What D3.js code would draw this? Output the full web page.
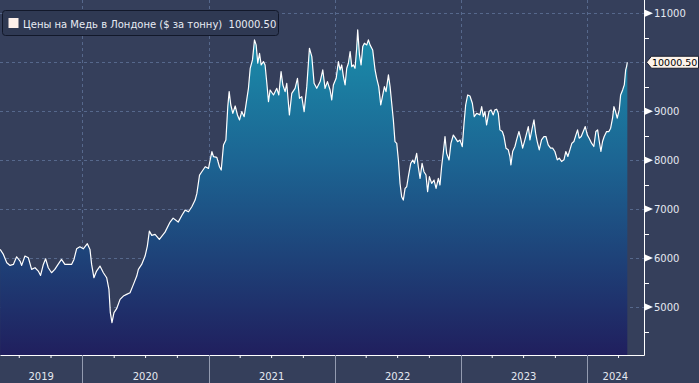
<!DOCTYPE html>
<html>
<head>
<meta charset="utf-8">
<script src="https://cdn.jsdelivr.net/npm/d3@7"></script>
<style>
  html, body { margin: 0; padding: 0; background: #353f5b; }
  svg { display: block; font-family: "DejaVu Sans", sans-serif; }
</style>
</head>
<body>
<svg id="chart" width="699" height="383"></svg>
<script>
// copper price, LME, $ per tonne (dates as decimal years)
const dates = [
  2019.348,2019.374,2019.401,2019.427,2019.453,2019.479,2019.506,2019.519,2019.545,2019.572,
  2019.598,2019.625,2019.651,2019.669,2019.691,2019.709,2019.730,2019.756,2019.782,2019.808,
  2019.835,2019.862,2019.888,2019.915,2019.934,2019.955,2019.981,2020.008,2020.040,2020.061,
  2020.074,2020.092,2020.113,2020.140,2020.167,2020.193,2020.211,2020.222,2020.235,2020.251,
  2020.272,2020.299,2020.325,2020.351,2020.378,2020.405,2020.431,2020.444,2020.470,2020.497,
  2020.515,2020.531,2020.550,2020.576,2020.610,
  2020.655,2020.695,2020.719,2020.759,2020.790,2020.814,2020.841,2020.867,2020.893,2020.907,
  2020.928,2020.946,2020.973,2020.999,2021.012,2021.026,2021.039,2021.065,2021.086,2021.100,
  2021.118,2021.137,2021.152,2021.163,2021.176,2021.192,2021.211,2021.229,2021.245,2021.263,
  2021.282,2021.298,2021.316,2021.330,2021.348,2021.364,2021.377,2021.390,2021.404,2021.417,
  2021.435,2021.448,2021.462,2021.475,2021.488,2021.515,2021.541,2021.557,2021.575,2021.589,
  2021.607,2021.620,2021.641,2021.660,2021.686,2021.705,2021.721,2021.739,2021.758,2021.779,
  2021.800,2021.819,2021.837,2021.858,
  2021.885,2021.906,2021.924,2021.943,2021.964,2021.977,2021.990,2022.012,2022.030,2022.043,
  2022.056,2022.070,2022.083,2022.096,2022.109,2022.123,2022.136,2022.149,2022.162,2022.175,
  2022.183,2022.197,2022.210,2022.223,2022.236,2022.255,2022.268,2022.281,2022.302,2022.321,
  2022.334,2022.350,2022.366,2022.382,2022.395,2022.408,2022.427,2022.440,2022.453,2022.466,
  2022.479,2022.493,2022.506,2022.519,2022.532,2022.545,2022.559,2022.572,2022.585,2022.604,
  2022.620,2022.633,2022.651,2022.664,2022.678,2022.694,2022.709,2022.725,2022.738,2022.752,
  2022.770,2022.789,2022.805,2022.823,2022.836,2022.849,2022.863,2022.876,2022.889,2022.908,
  2022.923,2022.942,2022.960,2022.976,2022.995,2023.013,2023.027,2023.040,2023.056,2023.074,
  2023.093,2023.108,2023.127,
  2023.153,2023.167,2023.180,2023.193,2023.206,2023.225,2023.241,2023.259,2023.272,2023.286,
  2023.299,2023.312,2023.331,2023.344,2023.360,2023.378,2023.391,2023.399,2023.413,2023.431,
  2023.444,2023.463,2023.476,2023.492,2023.510,2023.524,2023.537,2023.550,2023.568,2023.582,
  2023.595,2023.608,2023.624,2023.642,2023.661,2023.677,2023.695,2023.714,2023.730,2023.748,
  2023.767,2023.783,2023.801,2023.820,2023.835,2023.851,2023.867,2023.883,2023.899,2023.915,
  2023.928,2023.941,2023.957,2023.973,2023.989,2024.005,2024.020,2024.039,2024.057,2024.073,
  2024.087,2024.100,2024.113,2024.126,2024.139,2024.158,2024.176,2024.190,2024.205,2024.216,
  2024.229,2024.242,2024.258,2024.269,2024.285,2024.298,2024.309,2024.316,2024.322
];
const prices = [
  6177,6075,5905,5850,5870,6027,5939,5850,6041,6007,
  5769,5803,5735,5646,5870,5986,5803,5701,5769,5870,
  5973,5870,5870,5870,5973,6190,6231,6190,6293,6177,
  5870,5599,5735,5837,5701,5599,5361,4884,4680,4884,
  4966,5156,5224,5258,5292,5463,5633,5769,5870,6041,
  6245,6551,6463,6483,6381,
  6530,6735,6816,6735,6880,6980,6946,7048,7185,7321,
  7696,7764,7866,7832,8003,8173,8071,8057,7866,7798,
  8310,8412,9093,9400,9127,8957,9107,8923,8821,8991,
  8889,9162,9468,9877,10048,10457,10355,9980,10184,9945,
  10014,9945,9571,9196,9434,9332,9468,9332,9809,9536,
  9400,9571,8923,9366,9468,9673,9264,9298,8991,9502,
  10286,10116,9571,9468,
  9605,9843,9468,9605,9434,9230,9536,9673,10014,9843,
  9945,9707,9536,9877,9980,10218,9911,9945,9877,10286,
  10661,10150,9945,10320,10389,10355,10457,10355,10252,9843,
  9673,9502,9127,9332,9502,9400,9741,9502,9162,8821,
  8378,8344,8003,7526,7253,7185,7423,7457,7662,7935,
  8003,7935,8139,7866,7628,7935,7764,7696,7355,7662,
  7526,7594,7423,7628,7492,7866,8173,8480,8139,8003,
  8344,8514,8446,8378,8412,8276,8753,9127,9332,9312,
  9162,8889,8957,
  8925,9095,8891,8993,8721,8993,9027,8925,9027,9041,
  8959,8619,8585,8483,8245,8211,8075,7905,8177,8279,
  8415,8585,8449,8245,8415,8551,8687,8415,8653,8823,
  8551,8381,8211,8415,8483,8483,8313,8245,8245,8177,
  8007,8041,7973,8007,8177,8075,8211,8347,8381,8517,
  8619,8449,8483,8585,8687,8517,8449,8347,8279,8585,
  8619,8381,8177,8381,8483,8585,8585,8653,8857,9095,
  8993,8857,9027,9333,9435,9537,9844,9912,10000.50
];
const yTicks = [5000, 6000, 7000, 8000, 9000, 10000, 11000];
const yMinor = [4500, 5500, 6500, 7500, 8500, 9500, 10500];
const yearLabels = [2019, 2020, 2021, 2022, 2023, 2024];
const legendText = "Цены на Медь в Лондоне ($ за тонну)\u00a0\u00a010000.50";
const lastLabel = "10000.50";

function yearToDate(y) {
  const yr = Math.floor(y);
  const a = Date.UTC(yr, 0, 1), b = Date.UTC(yr + 1, 0, 1);
  return new Date(a + (y - yr) * (b - a));
}

const W = 644, H = 355;
const data = dates.map((d, i) => ({ date: yearToDate(d), v: prices[i] }));

const x = d3.scaleUtc()
  .domain([yearToDate(2019.347), yearToDate(2024.454)])
  .range([0, W]);
const y = d3.scaleLinear().domain([4020, 11272]).range([H, 0]);

const svg = d3.select('#chart');

svg.append('rect').attr('width', 699).attr('height', 383).attr('fill', '#353f5b');

const defs = svg.append('defs');
const grad = defs.append('linearGradient')
  .attr('id', 'areaGrad')
  .attr('gradientUnits', 'userSpaceOnUse')
  .attr('x1', 0).attr('x2', 0).attr('y1', 0).attr('y2', H);
grad.append('stop').attr('offset', '0%').attr('stop-color', '#1a98b1');
grad.append('stop').attr('offset', '45%').attr('stop-color', '#1c6593');
grad.append('stop').attr('offset', '100%').attr('stop-color', '#201f5e');

// grid
const grid = svg.append('g')
  .attr('stroke', '#56688c')
  .attr('stroke-dasharray', '3,3')
  .attr('stroke-width', 1);
grid.selectAll('line.h')
  .data(yTicks)
  .enter().append('line')
  .attr('x1', 0).attr('x2', W)
  .attr('y1', d => Math.round(y(d)) + 0.5)
  .attr('y2', d => Math.round(y(d)) + 0.5);
const yearStarts = yearLabels.slice(1).map(yr => new Date(Date.UTC(yr, 0, 1)));
grid.selectAll('line.v')
  .data(yearStarts)
  .enter().append('line')
  .attr('y1', 0).attr('y2', H)
  .attr('x1', d => Math.round(x(d)) + 0.5)
  .attr('x2', d => Math.round(x(d)) + 0.5);

// area + line
const area = d3.area()
  .x(d => x(d.date))
  .y0(H)
  .y1(d => y(d.v));
const line = d3.line()
  .x(d => x(d.date))
  .y(d => y(d.v));

svg.append('path').datum(data)
  .attr('d', area)
  .attr('fill', 'url(#areaGrad)');
svg.append('path').datum(data)
  .attr('d', line)
  .attr('fill', 'none')
  .attr('stroke', '#ffffff')
  .attr('stroke-width', 1.2)
  .attr('stroke-linejoin', 'round');

// x axis
const quarters = d3.utcMonth.every(3)
  .range(x.domain()[0], x.domain()[1])
  .filter(d => d.getUTCMonth() !== 0);
const xAxis = svg.append('g')
  .attr('transform', `translate(0,${H})`)
  .call(d3.axisBottom(x).tickValues(quarters).tickSize(3).tickFormat('').tickSizeOuter(0));
xAxis.select('.domain').attr('stroke', '#ffffff');
xAxis.selectAll('.tick line').attr('stroke', '#ffffff');

svg.append('g').selectAll('line')
  .data(yearStarts)
  .enter().append('line')
  .attr('x1', d => Math.round(x(d)) + 0.5)
  .attr('x2', d => Math.round(x(d)) + 0.5)
  .attr('y1', H).attr('y2', 383)
  .attr('stroke', '#939bb0');

svg.append('g').selectAll('text')
  .data(yearLabels)
  .enter().append('text')
  .attr('x', yr => {
    const a = Math.max(0, x(new Date(Date.UTC(yr, 0, 1))));
    const b = Math.min(W, x(new Date(Date.UTC(yr + 1, 0, 1))));
    return (a + b) / 2;
  })
  .attr('y', 380)
  .attr('text-anchor', 'middle')
  .attr('font-size', 10)
  .attr('fill', '#e4e8f0')
  .text(d => d);

// y axis
svg.append('line')
  .attr('x1', W + 0.5).attr('x2', W + 0.5)
  .attr('y1', 0).attr('y2', H + 0.5)
  .attr('stroke', '#ffffff');

const last = data[data.length - 1];
const ly = y(last.v);
// the last-value marker hides the tick that sits under it
const shownTicks = yTicks.filter(d => Math.abs(y(d) - ly) > 10);

const yAxis = svg.append('g');
yAxis.selectAll('path.tri')
  .data(shownTicks)
  .enter().append('path')
  .attr('d', d => {
    const yy = y(d);
    return `M${W + 1},${yy - 3.5}L${W + 9},${yy}L${W + 1},${yy + 3.5}Z`;
  })
  .attr('fill', '#ffffff');
yAxis.selectAll('line.minor')
  .data(yMinor)
  .enter().append('line')
  .attr('x1', W).attr('x2', W + 5)
  .attr('y1', d => Math.round(y(d)) + 0.5)
  .attr('y2', d => Math.round(y(d)) + 0.5)
  .attr('stroke', '#ffffff');
yAxis.selectAll('text')
  .data(shownTicks)
  .enter().append('text')
  .attr('x', W + 10)
  .attr('y', d => y(d))
  .attr('dy', '0.36em')
  .attr('font-size', 10)
  .attr('fill', '#e4e8f0')
  .text(d => d);

// last value marker
const marker = svg.append('g');
marker.append('path')
  .attr('d', `M${W + 2.5},${ly}L${W + 7.5},${ly - 6}L698.5,${ly - 6}L698.5,${ly + 6}L${W + 7.5},${ly + 6}Z`)
  .attr('fill', '#fdf3ea')
  .attr('stroke', '#1b2030');
marker.append('text')
  .attr('x', W + 8)
  .attr('y', ly)
  .attr('dy', '0.36em')
  .attr('font-size', 9.5)
  .attr('fill', '#000000')
  .text(lastLabel);

// legend
const legend = svg.append('g');
legend.append('rect')
  .attr('x', 2.5).attr('y', 10.5)
  .attr('width', 276).attr('height', 25)
  .attr('rx', 3)
  .attr('fill', '#2f3953')
  .attr('stroke', '#12182a');
legend.append('rect')
  .attr('x', 8.5).attr('y', 18)
  .attr('width', 10).attr('height', 10)
  .attr('fill', '#fdf0ea');
legend.append('text')
  .attr('x', 23).attr('y', 27.5)
  .attr('font-size', 10)
  .attr('fill', '#e8ecf4')
  .text(legendText);
</script>
</body>
</html>
